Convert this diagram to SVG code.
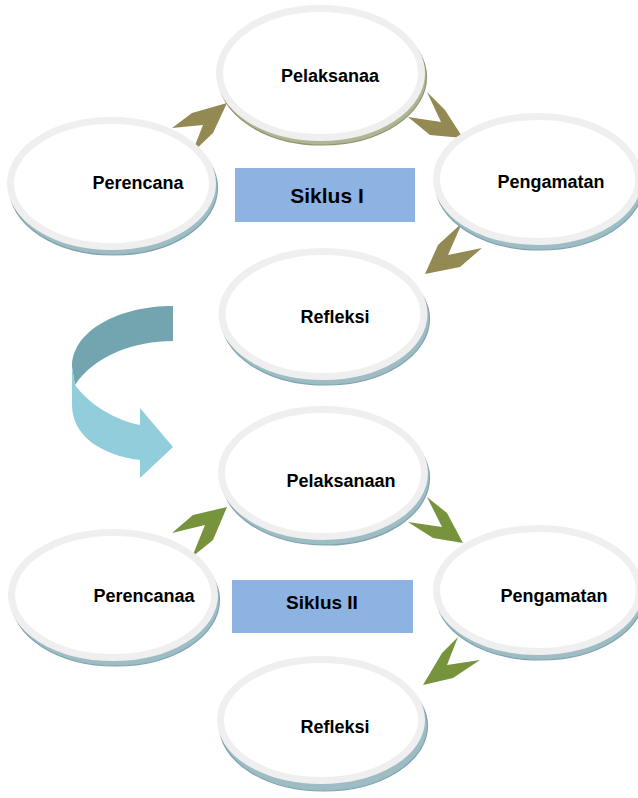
<svg xmlns="http://www.w3.org/2000/svg" width="638" height="798" viewBox="0 0 638 798">
<style>
.ring{fill:#ffffff;stroke:#efefef;stroke-width:7}
.sh{fill:#9dbcc4;stroke:#7fa3ad;stroke-width:1.2}
.sho{fill:#b0b594;stroke:#8f9570;stroke-width:1.2}
.lbl{font-family:"Liberation Sans",Arial,sans-serif;font-weight:bold;font-size:18px;fill:#000;text-anchor:middle}
.sik{font-family:"Liberation Sans",Arial,sans-serif;font-weight:bold;font-size:19px;fill:#000;text-anchor:middle}
.box{fill:#8db3e2}
.c1{fill:#938953}
.c2{fill:#77933c}
</style>
<rect width="638" height="798" fill="#ffffff"/>
<g id="connectors">
<polygon class="c1" points="172,128 192,113 227,103 213,133 192,153 203,125"/>
<polygon class="c1" points="427,92 445,110 463,138 430,135 408,117 441,122"/>
<polygon class="c1" points="462,223 438,245 425,274 460,267 482,248 448,255"/>
<polygon class="c2" points="172,533 193,515 227,507 213,540 192,557 205,525"/>
<polygon class="c2" points="427,497 447,513 463,543 433,538 408,522 442,527"/>
<polygon class="c2" points="458,637 442,653 423,685 453,678 480,660 447,665"/>
<path id="curve-dark" d="M173,306 L173,341 C135,341 95,355 75,385 L72,367 C72,330 120,306 173,306 Z" fill="#72a5b0"/>
<path id="curve-light" d="M72,367 L75,385 C90,405 115,420 140,425 L140,408 L173,447 L140,478 L140,460 C100,455 72,435 72,405 Z" fill="#92cddc"/>
</g>
<g id="siklus1">
<rect class="box" x="235" y="168" width="180" height="54"/>
<text class="sik" x="327" y="203" style="font-size:21px">Siklus I</text>
</g>
<g id="siklus2">
<rect class="box" x="232" y="580" width="181" height="53"/>
<text class="sik" x="322" y="609">Siklus II</text>
</g>
<g id="pelaksanaa1">
<ellipse class="sho" cx="322.5" cy="77" rx="104" ry="68"/>
<ellipse class="ring" cx="320.5" cy="73" rx="101" ry="64.5"/>
<text class="lbl" x="330" y="82">Pelaksanaa</text>
</g>
<g id="perencana1">
<ellipse class="sh" cx="113.5" cy="188" rx="104" ry="67"/>
<ellipse class="ring" cx="111.5" cy="183.5" rx="101" ry="63"/>
<text class="lbl" x="138" y="189">Perencana</text>
</g>
<g id="pengamatan1">
<ellipse class="sh" cx="539.5" cy="184" rx="104" ry="66"/>
<ellipse class="ring" cx="537.5" cy="179" rx="101" ry="62.5"/>
<text class="lbl" x="551" y="188">Pengamatan</text>
</g>
<g id="refleksi1">
<ellipse class="sh" cx="325.5" cy="319" rx="104" ry="66"/>
<ellipse class="ring" cx="323" cy="314" rx="101" ry="62.5"/>
<text class="lbl" x="335" y="323">Refleksi</text>
</g>
<g id="pelaksanaan2">
<ellipse class="sh" cx="325.5" cy="478" rx="104" ry="67"/>
<ellipse class="ring" cx="323" cy="473" rx="101.5" ry="63.5"/>
<text class="lbl" x="341" y="487">Pelaksanaan</text>
</g>
<g id="perencanaa2">
<ellipse class="sh" cx="115.5" cy="600" rx="104" ry="66"/>
<ellipse class="ring" cx="113" cy="595" rx="101.5" ry="62.5"/>
<text class="lbl" x="144" y="602">Perencanaa</text>
</g>
<g id="pengamatan2">
<ellipse class="sh" cx="540" cy="595" rx="104" ry="65"/>
<ellipse class="ring" cx="538" cy="590" rx="101.5" ry="61.5"/>
<text class="lbl" x="554" y="602">Pengamatan</text>
</g>
<g id="refleksi2">
<ellipse class="sh" cx="323.5" cy="726" rx="104" ry="65"/>
<ellipse class="ring" cx="321" cy="720" rx="100.5" ry="60.5"/>
<text class="lbl" x="335" y="733">Refleksi</text>
</g>
</svg>
